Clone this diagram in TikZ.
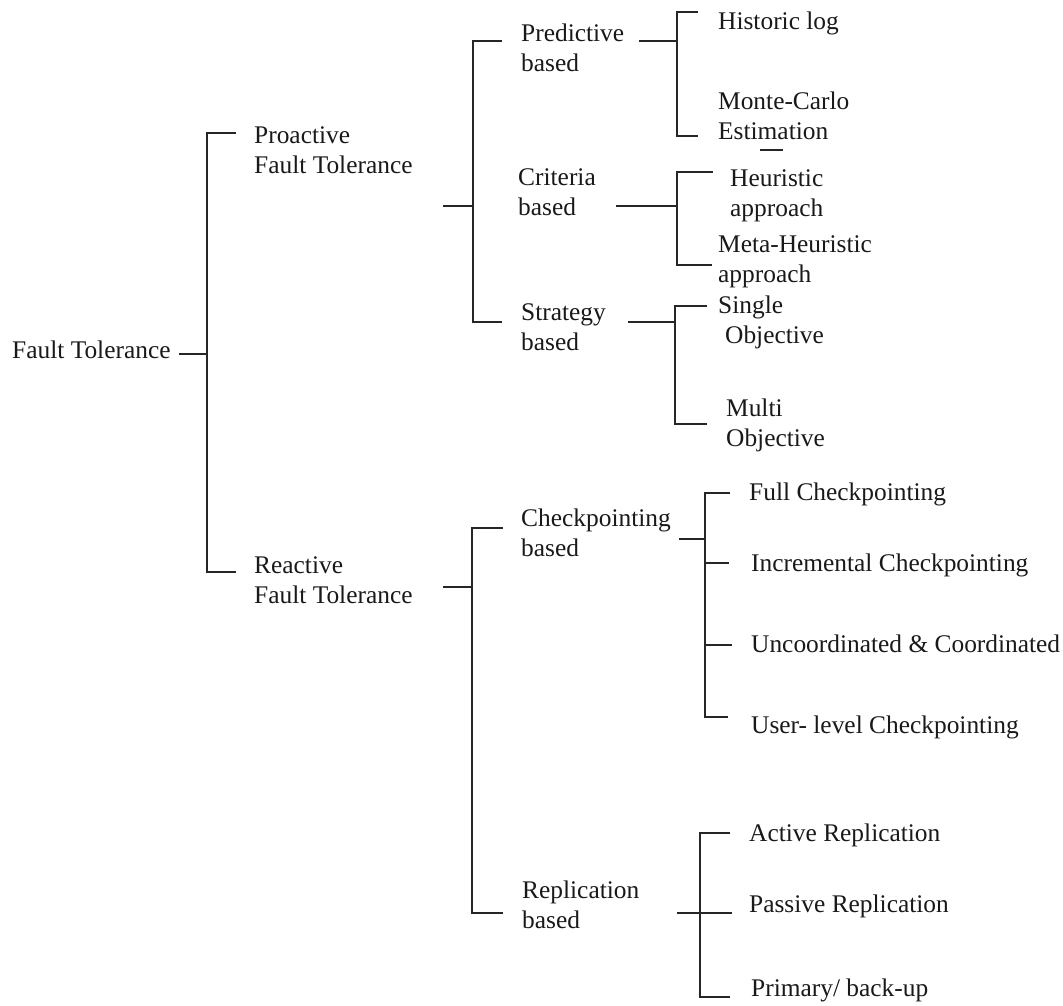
\documentclass[tikz,border=0pt]{standalone}
\usepackage{fontspec}
\setmainfont{Liberation Serif}
\usepackage{tikz}
\usetikzlibrary{positioning}

\begin{document}
\begin{tikzpicture}[x=1pt, y=-1pt, every node/.style={font=\fontsize{25.4}{30}\selectfont, text=black!90}]
    \tikzstyle{leaf} = [anchor=west, align=left, inner sep=0pt]
    \tikzstyle{branch} = [line width=2.4pt, draw=black!85]

    \useasboundingbox (0,0) rectangle (1063,1006);

    % Root and first level
    \node (ft) [leaf] at (12,350) {Fault Tolerance};
    \node (pro) [leaf] at (254,150) {Proactive\\Fault Tolerance};
    \node (rea) [leaf] at (254,580) {Reactive\\Fault Tolerance};

    % Proactive kinds
    \node (pred) [leaf] at (521,48) {Predictive\\based};
    \node (crit) [leaf] at (518,192) {Criteria\\based};
    \node (strat) [leaf] at (521,327) {Strategy\\based};

    \node (hist) [leaf] at (718,23) {Historic log};
    \node (monte) [leaf] at (718,116) {Monte-Carlo\\Estimation};
    \node (heur) [leaf] at (730,196) {Heuristic\\approach};
    \node (meta) [leaf] at (718,262) {Meta-Heuristic\\approach};
    \node (single) [leaf] at (718,322) {Single\\\hspace*{7pt}Objective};
    \node (multi) [leaf] at (726,425) {Multi\\Objective};

    % Reactive kinds
    \node (check) [leaf] at (521,533) {Checkpointing\\based};
    \node (repl) [leaf] at (522,905) {Replication\\based};

    \node (full) [leaf] at (749,494) {Full Checkpointing};
    \node (incr) [leaf] at (751,565) {Incremental Checkpointing};
    \node (uncoord) [leaf] at (751,644) {Uncoordinated \& Coordinated};
    \node (user) [leaf] at (751,727) {User- level Checkpointing};
    \node (active) [leaf] at (749,835) {Active Replication};
    \node (passive) [leaf] at (749,906) {Passive Replication};
    \node (primary) [leaf] at (751,990) {Primary/ back-up};

    % Brackets
    \draw [branch] (179,354) -- (207,354);
    \draw [branch] (236,133) -| (207,572) -- (236,572);

    \draw [branch] (443,206) -- (473,206);
    \draw [branch] (502,41) -| (473,322) -- (502,322);

    \draw [branch] (639,41) -- (677,41);
    \draw [branch] (698,12) -| (677,136) -- (698,136);
    \draw [branch] (760,150) -- (783,150);

    \draw [branch] (616,206) -- (677,206);
    \draw [branch] (713,172) -| (677,265) -- (712,265);

    \draw [branch] (628,322) -- (675,322);
    \draw [branch] (707,306) -| (675,424) -- (707,424);

    \draw [branch] (443,587) -- (472,587);
    \draw [branch] (503,528) -| (472,913) -- (503,913);

    \draw [branch] (679,539) -- (705,539);
    \draw [branch] (730,493) -| (705,717) -- (728,717);
    \draw [branch] (705,563) -- (729,563);
    \draw [branch] (705,645) -- (732,645);

    \draw [branch] (730,833) -| (700,997) -- (730,997);
    \draw [branch] (677,913) -- (732,913);
\end{tikzpicture}
\end{document}
